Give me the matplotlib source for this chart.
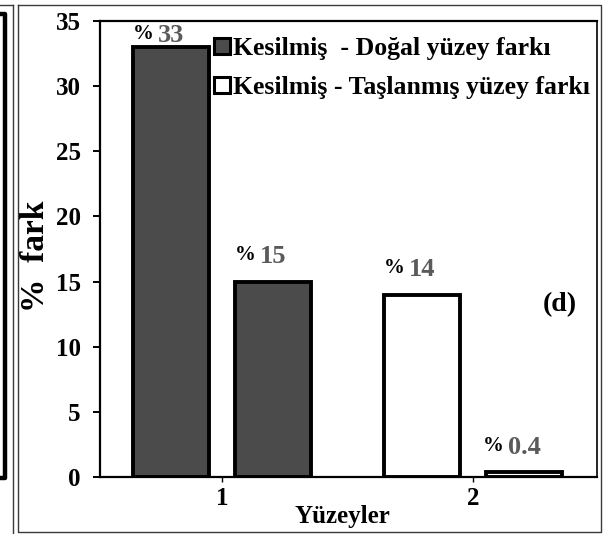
import matplotlib
matplotlib.use("Agg")
import matplotlib.pyplot as plt
from matplotlib.patches import Patch
from matplotlib.lines import Line2D

# ---- data ----
categories = [1, 2]
series_labels = ["Kesilmiş  - Doğal yüzey farkı", "Kesilmiş - Taşlanmış yüzey farkı"]
dogal_values = [33, 15]        # both bars drawn in category 1
taslanmis_values = [14, 0.4]   # both bars drawn in category 2
y_ticks = [0, 5, 10, 15, 20, 25, 30, 35]

FONT = "Liberation Serif"
W, H = 603, 534
fig = plt.figure(figsize=(W / 100, H / 100), dpi=100)


def fx(px):
    return px / W


def fy(py):
    return 1 - py / H


ax = fig.add_axes([fx(100), fy(477), (597 - 100) / W, (477 - 21) / H])

dark = "#4b4b4b"
offsets = [-0.203, 0.203]
bar_w = 0.30

bars = []
for off, v in zip(offsets, dogal_values):
    ax.bar(categories[0] + off, v, width=bar_w, color=dark, edgecolor="black",
           linewidth=2.8, zorder=2)
    bars.append((categories[0] + off, v))
for off, v in zip(offsets, taslanmis_values):
    ax.bar(categories[1] + off, v, width=bar_w, color="white", edgecolor="black",
           linewidth=2.8, zorder=2)
    bars.append((categories[1] + off, v))

ymax = 35
ax.set_ylim(0, ymax)
ax.set_xlim(0.514, 2.494)
ax.set_yticks(y_ticks)
ax.set_xticks(categories)
ax.set_xticklabels([str(c) for c in categories])

for s in ax.spines.values():
    s.set_linewidth(1.6)
    s.set_color("black")
ax.spines["right"].set_linewidth(1.2)

ax.tick_params(axis="y", direction="out", length=5, width=1.4, pad=9,
               labelsize=18)
ax.tick_params(axis="x", direction="out", length=3.5, width=1.0, pad=4,
               labelsize=18)
for lab in ax.get_yticklabels() + ax.get_xticklabels():
    lab.set_fontfamily(FONT)
    lab.set_fontweight("bold")

# value labels
for x, v in bars:
    ybase = min(v + 1.4, ymax - 1.6)
    t = ax.text(x, ybase, f"{v:g}", ha="center", va="baseline", color="#5a5a5a",
                fontsize=19, fontfamily=FONT, fontweight="bold", zorder=3)
    ax.annotate("%", xy=(0, 0), xycoords=t, xytext=(-4, 3),
                textcoords="offset pixels", ha="right", va="bottom",
                fontsize=15, fontfamily=FONT, fontweight="bold", color="black")

# legend
handles = [Patch(facecolor=dark, edgecolor="black", linewidth=2.2),
           Patch(facecolor="white", edgecolor="black", linewidth=2.2)]
leg = ax.legend(handles, series_labels, loc="upper left",
                bbox_to_anchor=(fx(214), fy(37)), bbox_transform=fig.transFigure,
                frameon=False, borderpad=0, borderaxespad=0,
                handlelength=0.62, handleheight=0.62, handletextpad=0.12,
                labelspacing=0.62,
                prop={"family": FONT, "weight": "bold", "size": 18.5})

# axis labels and panel tag
fig.text(fx(35), fy(256), "%  fark", rotation=90, ha="center", va="center",
         fontsize=24, fontfamily=FONT, fontweight="bold")
fig.text(fx(342), fy(517), "Yüzeyler", ha="center", va="center",
         fontsize=18, fontfamily=FONT, fontweight="bold")
fig.text(fx(560), fy(305), "(d)", ha="center", va="center",
         fontsize=20, fontfamily=FONT, fontweight="bold")

# panel frames
gray = "#3a3a3a"
def fline(xs, ys, **kw):
    fig.add_artist(Line2D([fx(a) for a in xs], [fy(b) for b in ys],
                          transform=fig.transFigure, **kw))

fline([18, 601, 601, 18, 18], [5, 5, 532, 532, 5], color=gray, linewidth=1.0)
fline([13, 13], [5, 534], color=gray, linewidth=1.0)
fline([0, 13], [5, 5], color=gray, linewidth=1.0)
# edge of neighbouring panel
fline([0, 5, 5, 0], [14, 14, 478, 478], color="black", linewidth=3.2)

fig.savefig("out.png", dpi=100)
